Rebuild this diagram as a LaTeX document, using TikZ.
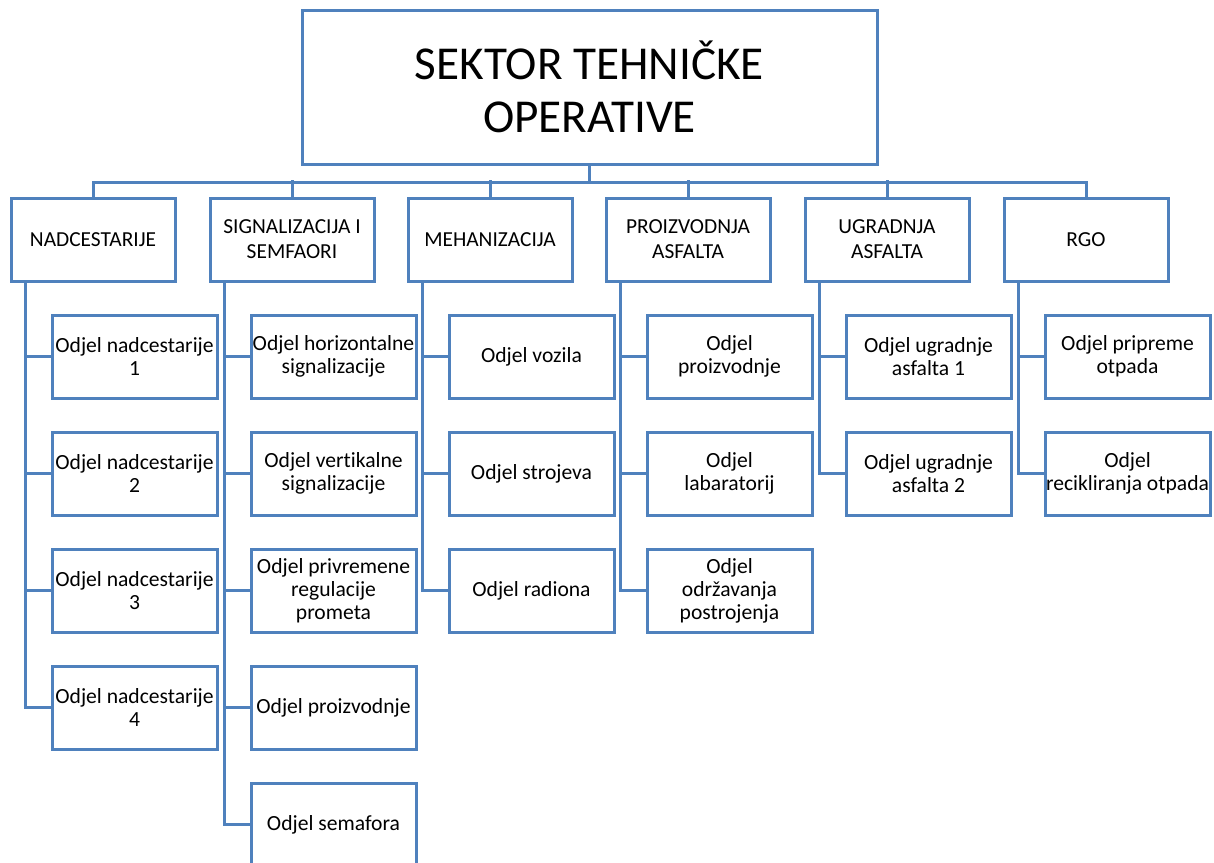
\documentclass[tikz,border=0pt]{standalone}
\usepackage{fontspec}
\setmainfont{Carlito}[Ligatures=CommonOff]
\usepackage{tikz}
\definecolor{orgblue}{HTML}{4F81BD}

\begin{document}
\begin{tikzpicture}[x=0.5pt, y=-0.5pt,
  box/.style={draw=orgblue, line width=1.5pt, fill=white, align=center, inner sep=0pt},
  topbox/.style={box, minimum width=287.5pt, minimum height=77pt, font=\fontsize{23.6}{26.5}\selectfont},
  unitbox/.style={box, minimum width=82pt, minimum height=41.5pt, font=\fontsize{10.7}{12.5}\selectfont},
  deptbox/.style={box, minimum width=82.5pt, minimum height=41.5pt, font=\fontsize{10.8}{11.5}\selectfont},
  link/.style={draw=orgblue, line width=1.5pt}]
\clip (0,0) rectangle (1214,862);

% top
\node[topbox] (sektor) at (589.5,87) {SEKTOR TEHNIČKE\\OPERATIVE};

% units
\node[unitbox] (nad) at (93,239.5) {NADCESTARIJE};
\node[unitbox] (sig) at (292,239.5) {SIGNALIZACIJA I\\SEMFAORI};
\node[unitbox] (meh) at (490,239.5) {MEHANIZACIJA};
\node[unitbox] (pro) at (688,239.5) {PROIZVODNJA\\ASFALTA};
\node[unitbox] (ugr) at (887,239.5) {UGRADNJA\\ASFALTA};
\node[unitbox] (rgo) at (1086,239.5) {RGO};

\draw[link] (sektor.south) -- ++(0,17) coordinate (bus);
\draw[link] (nad.north) |- (bus);
\draw[link] (rgo.north) |- (bus);
\foreach \u in {sig,meh,pro,ugr}
  \draw[link] (\u.north) -- ++(0,-17);

% NADCESTARIJE
\node[deptbox] (nad1) at (134.5,356.5) {Odjel nadcestarije\\1};
\node[deptbox] (nad2) at (134.5,473.5) {Odjel nadcestarije\\2};
\node[deptbox] (nad3) at (134.5,590.5) {Odjel nadcestarije\\3};
\node[deptbox] (nad4) at (134.5,707.5) {Odjel nadcestarije\\4};

% SIGNALIZACIJA I SEMFAORI
\node[deptbox] (sig1) at (333.5,356.5) {Odjel horizontalne\\signalizacije};
\node[deptbox] (sig2) at (333.5,473.5) {Odjel vertikalne\\signalizacije};
\node[deptbox] (sig3) at (333.5,590.5) {Odjel privremene\\regulacije\\prometa};
\node[deptbox] (sig4) at (333.5,707.5) {Odjel proizvodnje};
\node[deptbox] (sig5) at (333.5,824.5) {Odjel semafora};

% MEHANIZACIJA
\node[deptbox] (meh1) at (531.5,356.5) {Odjel vozila};
\node[deptbox] (meh2) at (531.5,473.5) {Odjel strojeva};
\node[deptbox] (meh3) at (531.5,590.5) {Odjel radiona};

% PROIZVODNJA ASFALTA
\node[deptbox] (pro1) at (729.5,356.5) {Odjel\\proizvodnje};
\node[deptbox] (pro2) at (729.5,473.5) {Odjel\\labaratorij};
\node[deptbox] (pro3) at (729.5,590.5) {Odjel\\održavanja\\postrojenja};

% UGRADNJA ASFALTA
\node[deptbox] (ugr1) at (928.5,356.5) {Odjel ugradnje\\asfalta 1};
\node[deptbox] (ugr2) at (928.5,473.5) {Odjel ugradnje\\asfalta 2};

% RGO
\node[deptbox] (rgo1) at (1127.5,356.5) {Odjel pripreme\\otpada};
\node[deptbox] (rgo2) at (1127.5,473.5) {Odjel\\recikliranja otpada};

% spines
\foreach \d in {1,...,4}
  \draw[link] ([xshift=8pt]nad.south west) |- (nad\d.west);
\foreach \d in {1,...,5}
  \draw[link] ([xshift=8pt]sig.south west) |- (sig\d.west);
\foreach \d in {1,...,3}
  \draw[link] ([xshift=8pt]meh.south west) |- (meh\d.west);
\foreach \d in {1,...,3}
  \draw[link] ([xshift=8pt]pro.south west) |- (pro\d.west);
\foreach \d in {1,2}
  \draw[link] ([xshift=8pt]ugr.south west) |- (ugr\d.west);
\foreach \d in {1,2}
  \draw[link] ([xshift=8pt]rgo.south west) |- (rgo\d.west);
\end{tikzpicture}
\end{document}
